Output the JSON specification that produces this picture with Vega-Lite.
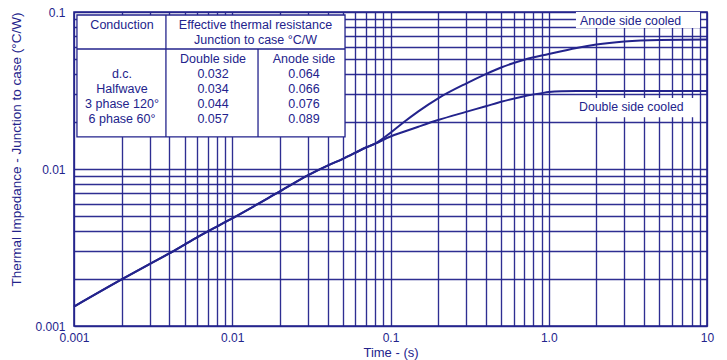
{
  "$schema": "https://vega.github.io/schema/vega-lite/v6.json",
  "width": 633,
  "height": 314,
  "autosize": {"type": "none"},
  "padding": {"left": 74, "top": 12, "right": 20, "bottom": 34},
  "background": "white",
  "config": {
    "font": "Liberation Sans",
    "view": {"stroke": "#23238c", "strokeWidth": 1.6},
    "axis": {
      "grid": true,
      "gridColor": "#23238c",
      "gridWidth": 1.35,
      "gridOpacity": 0.95,
      "ticks": false,
      "domain": false,
      "labelColor": "#23238c",
      "labelFont": "Liberation Sans",
      "labelFontSize": 12,
      "titleColor": "#23238c",
      "titleFont": "Liberation Sans",
      "titleFontSize": 13,
      "titleFontWeight": "normal",
      "labelOverlap": false,
      "labelBound": false,
      "labelFlush": false
    }
  },
  "datasets": {
    "curves": [
      {"series": "Anode side cooled", "t": 0.001, "z": 0.00133},
      {"series": "Anode side cooled", "t": 0.002, "z": 0.00198},
      {"series": "Anode side cooled", "t": 0.003, "z": 0.00248},
      {"series": "Anode side cooled", "t": 0.004, "z": 0.0029},
      {"series": "Anode side cooled", "t": 0.005, "z": 0.0033},
      {"series": "Anode side cooled", "t": 0.006, "z": 0.00367},
      {"series": "Anode side cooled", "t": 0.008, "z": 0.0043},
      {"series": "Anode side cooled", "t": 0.01, "z": 0.00485},
      {"series": "Anode side cooled", "t": 0.02, "z": 0.0072},
      {"series": "Anode side cooled", "t": 0.03, "z": 0.0091},
      {"series": "Anode side cooled", "t": 0.04, "z": 0.0105},
      {"series": "Anode side cooled", "t": 0.05, "z": 0.0116},
      {"series": "Anode side cooled", "t": 0.07, "z": 0.0137},
      {"series": "Anode side cooled", "t": 0.08, "z": 0.0145},
      {"series": "Anode side cooled", "t": 0.09, "z": 0.0157},
      {"series": "Anode side cooled", "t": 0.1, "z": 0.017},
      {"series": "Anode side cooled", "t": 0.12, "z": 0.0197},
      {"series": "Anode side cooled", "t": 0.15, "z": 0.0233},
      {"series": "Anode side cooled", "t": 0.2, "z": 0.0282},
      {"series": "Anode side cooled", "t": 0.3, "z": 0.035},
      {"series": "Anode side cooled", "t": 0.4, "z": 0.0402},
      {"series": "Anode side cooled", "t": 0.5, "z": 0.0443},
      {"series": "Anode side cooled", "t": 0.7, "z": 0.0497},
      {"series": "Anode side cooled", "t": 1.0, "z": 0.054},
      {"series": "Anode side cooled", "t": 1.5, "z": 0.059},
      {"series": "Anode side cooled", "t": 2.0, "z": 0.062},
      {"series": "Anode side cooled", "t": 3.0, "z": 0.0648},
      {"series": "Anode side cooled", "t": 5.0, "z": 0.0663},
      {"series": "Anode side cooled", "t": 10.0, "z": 0.0667},
      {"series": "Double side cooled", "t": 0.001, "z": 0.00133},
      {"series": "Double side cooled", "t": 0.002, "z": 0.00198},
      {"series": "Double side cooled", "t": 0.003, "z": 0.00248},
      {"series": "Double side cooled", "t": 0.004, "z": 0.0029},
      {"series": "Double side cooled", "t": 0.005, "z": 0.0033},
      {"series": "Double side cooled", "t": 0.006, "z": 0.00367},
      {"series": "Double side cooled", "t": 0.008, "z": 0.0043},
      {"series": "Double side cooled", "t": 0.01, "z": 0.00485},
      {"series": "Double side cooled", "t": 0.02, "z": 0.0072},
      {"series": "Double side cooled", "t": 0.03, "z": 0.0091},
      {"series": "Double side cooled", "t": 0.04, "z": 0.0105},
      {"series": "Double side cooled", "t": 0.05, "z": 0.0116},
      {"series": "Double side cooled", "t": 0.07, "z": 0.0137},
      {"series": "Double side cooled", "t": 0.08, "z": 0.0145},
      {"series": "Double side cooled", "t": 0.1, "z": 0.0161},
      {"series": "Double side cooled", "t": 0.12, "z": 0.0172},
      {"series": "Double side cooled", "t": 0.15, "z": 0.0186},
      {"series": "Double side cooled", "t": 0.2, "z": 0.0205},
      {"series": "Double side cooled", "t": 0.3, "z": 0.0231},
      {"series": "Double side cooled", "t": 0.4, "z": 0.0251},
      {"series": "Double side cooled", "t": 0.5, "z": 0.0268},
      {"series": "Double side cooled", "t": 0.7, "z": 0.0291},
      {"series": "Double side cooled", "t": 0.9, "z": 0.0304},
      {"series": "Double side cooled", "t": 1.0, "z": 0.0309},
      {"series": "Double side cooled", "t": 1.2, "z": 0.0313},
      {"series": "Double side cooled", "t": 1.5, "z": 0.0314},
      {"series": "Double side cooled", "t": 10.0, "z": 0.0314}
    ],
    "tableBox": [
      {"t": 0.001044, "t2": 0.0516, "z": 0.016, "z2": 0.0957}
    ],
    "tableRules": [
      {"t": 0.001044, "t2": 0.0516, "z": 0.0581, "z2": 0.0581},
      {"t": 0.00381, "t2": 0.00381, "z": 0.016, "z2": 0.0957},
      {"t": 0.01455, "t2": 0.01455, "z": 0.016, "z2": 0.0581}
    ],
    "tableText": [
      {"t": 0.00201, "z": 0.0832, "label": "Conduction"},
      {"t": 0.01403, "z": 0.0832, "label": "Effective thermal resistance"},
      {"t": 0.01403, "z": 0.0663, "label": "Junction to case °C/W"},
      {"t": 0.00756, "z": 0.0502, "label": "Double side"},
      {"t": 0.02841, "z": 0.0502, "label": "Anode side"},
      {"t": 0.00201, "z": 0.0403, "label": "d.c."},
      {"t": 0.00756, "z": 0.0403, "label": "0.032"},
      {"t": 0.02841, "z": 0.0403, "label": "0.064"},
      {"t": 0.00201, "z": 0.0323, "label": "Halfwave"},
      {"t": 0.00756, "z": 0.0323, "label": "0.034"},
      {"t": 0.02841, "z": 0.0323, "label": "0.066"},
      {"t": 0.00201, "z": 0.02594, "label": "3 phase 120°"},
      {"t": 0.00756, "z": 0.02594, "label": "0.044"},
      {"t": 0.02841, "z": 0.02594, "label": "0.076"},
      {"t": 0.00201, "z": 0.02082, "label": "6 phase 60°"},
      {"t": 0.00756, "z": 0.02082, "label": "0.057"},
      {"t": 0.02841, "z": 0.02082, "label": "0.089"}
    ],
    "labelBoxes": [
      {"t": 1.486, "t2": 9.03, "z": 0.0791, "z2": 0.1},
      {"t": 1.466, "t2": 8.65, "z": 0.0214, "z2": 0.0283}
    ],
    "labels": [
      {"t": 1.575, "z": 0.0877, "label": "Anode side cooled"},
      {"t": 1.553, "z": 0.0248, "label": "Double side cooled"}
    ]
  },
  "encoding": {
    "x": {
      "field": "t",
      "type": "quantitative",
      "scale": {"type": "log", "domain": [0.001, 10], "nice": false},
      "axis": {
        "title": "Time - (s)",
        "titlePadding": 3,
        "labelPadding": 6,
        "values": [0.001, 0.002, 0.003, 0.004, 0.005, 0.006, 0.007, 0.008, 0.009,
                   0.01, 0.02, 0.03, 0.04, 0.05, 0.06, 0.07, 0.08, 0.09,
                   0.1, 0.2, 0.3, 0.4, 0.5, 0.6, 0.7, 0.8, 0.9,
                   1, 2, 3, 4, 5, 6, 7, 8, 9, 10],
        "labelExpr": "datum.value === 0.001 ? '0.001' : datum.value === 0.01 ? '0.01' : datum.value === 0.1 ? '0.1' : datum.value === 1 ? '1.0' : datum.value === 10 ? '10' : ''"
      }
    },
    "y": {
      "field": "z",
      "type": "quantitative",
      "scale": {"type": "log", "domain": [0.001, 0.1], "nice": false},
      "axis": {
        "title": "Thermal Impedance - Junction to case (°C/W)",
        "titleAnchor": "end",
        "titleFontSize": 13.5,
        "titlePadding": 11,
        "labelPadding": 9,
        "values": [0.001, 0.002, 0.003, 0.004, 0.005, 0.006, 0.007, 0.008, 0.009,
                   0.01, 0.02, 0.03, 0.04, 0.05, 0.06, 0.07, 0.08, 0.09, 0.1],
        "labelExpr": "datum.value === 0.001 ? '0.001' : datum.value === 0.01 ? '0.01' : datum.value === 0.1 ? '0.1' : ''"
      }
    }
  },
  "layer": [
    {
      "data": {"name": "tableBox"},
      "mark": {"type": "rect", "fill": "white", "stroke": "#23238c", "strokeWidth": 1.3},
      "encoding": {"x2": {"field": "t2"}, "y2": {"field": "z2"}}
    },
    {
      "data": {"name": "tableRules"},
      "mark": {"type": "rule", "color": "#23238c", "strokeWidth": 1.3},
      "encoding": {"x2": {"field": "t2"}, "y2": {"field": "z2"}}
    },
    {
      "data": {"name": "tableText"},
      "mark": {"type": "text", "align": "center", "baseline": "middle", "fontSize": 12.5, "color": "#23238c", "font": "Liberation Sans"},
      "encoding": {"text": {"field": "label"}}
    },
    {
      "data": {"name": "labelBoxes"},
      "mark": {"type": "rect", "fill": "white", "strokeWidth": 0},
      "encoding": {"x2": {"field": "t2"}, "y2": {"field": "z2"}}
    },
    {
      "data": {"name": "labels"},
      "mark": {"type": "text", "align": "left", "baseline": "middle", "fontSize": 12.3, "color": "#23238c", "font": "Liberation Sans"},
      "encoding": {"text": {"field": "label"}}
    },
    {
      "data": {"name": "curves"},
      "mark": {"type": "line", "color": "#23238c", "strokeWidth": 2, "interpolate": "monotone"},
      "encoding": {"detail": {"field": "series"}}
    }
  ]
}
